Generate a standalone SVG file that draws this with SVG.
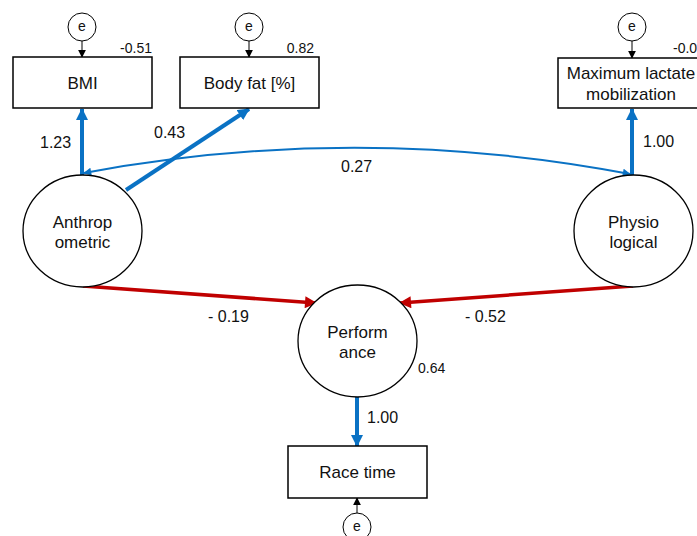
<svg xmlns="http://www.w3.org/2000/svg" width="697" height="536" viewBox="0 0 697 536">
  <style>
    .box { fill: #fff; stroke: #000; stroke-width: 1.5; }
    .lat { fill: #fff; stroke: #000; stroke-width: 1.3; }
    .err { fill: #fff; stroke: #000; stroke-width: 1; }
    .lbl { font-family: "Liberation Sans", Arial, sans-serif; font-size: 17px; fill: #111; text-anchor: middle; }
    .coef { font-family: "Liberation Sans", Arial, sans-serif; font-size: 16px; fill: #111; }
    .small { font-family: "Liberation Sans", Arial, sans-serif; font-size: 14px; fill: #111; }
    .etxt { font-family: "Liberation Sans", Arial, sans-serif; font-size: 14px; fill: #111; text-anchor: middle; }
    .blue { stroke: #0a72c4; stroke-width: 4; fill: none; }
    .red { stroke: #c00000; stroke-width: 3.5; fill: none; }
    .cov { stroke: #0a72c4; stroke-width: 2; fill: none; }
    .thin { stroke: #000; stroke-width: 1; fill: none; }
  </style>
  <defs>
    <marker id="ahBlue" viewBox="0 0 12 12" refX="11" refY="6" markerWidth="12" markerHeight="12" markerUnits="userSpaceOnUse" orient="auto">
      <path d="M0,0 L12,6 L0,12 Z" fill="#0a72c4"/>
    </marker>
    <marker id="ahRed" viewBox="0 0 12 12" refX="11" refY="6" markerWidth="13" markerHeight="12" markerUnits="userSpaceOnUse" orient="auto">
      <path d="M0,0 L12,6 L0,12 Z" fill="#c00000"/>
    </marker>
    <marker id="ahCov" viewBox="0 0 10 10" refX="9" refY="5" markerWidth="9" markerHeight="8" markerUnits="userSpaceOnUse" orient="auto-start-reverse">
      <path d="M0,0 L10,5 L0,10 Z" fill="#0a72c4"/>
    </marker>
    <marker id="ahBlack" viewBox="0 0 10 10" refX="9" refY="5" markerWidth="8" markerHeight="8" markerUnits="userSpaceOnUse" orient="auto">
      <path d="M0,0 L10,5 L0,10 Z" fill="#000"/>
    </marker>
  </defs>

  <!-- connectors -->
  <g id="connectors">
    <line class="thin" x1="82" y1="41" x2="82" y2="57" marker-end="url(#ahBlack)"/>
    <line class="thin" x1="249" y1="41" x2="249" y2="57" marker-end="url(#ahBlack)"/>
    <line class="thin" x1="632" y1="41" x2="632" y2="58" marker-end="url(#ahBlack)"/>
    <line class="thin" x1="357" y1="513" x2="357" y2="498" marker-end="url(#ahBlack)"/>

    <line class="blue" x1="82" y1="175" x2="82" y2="109" marker-end="url(#ahBlue)"/>
    <line class="blue" x1="126" y1="190" x2="249" y2="109" marker-end="url(#ahBlue)"/>
    <line class="blue" x1="632" y1="175" x2="632" y2="109" marker-end="url(#ahBlue)"/>
    <line class="blue" x1="357" y1="397" x2="357" y2="446" marker-end="url(#ahBlue)"/>

    <path class="cov" d="M84,173 Q357,122 630,174" marker-start="url(#ahCov)" marker-end="url(#ahCov)"/>

    <line class="red" x1="83" y1="286" x2="316" y2="303" marker-end="url(#ahRed)"/>
    <line class="red" x1="633" y1="286" x2="400" y2="303" marker-end="url(#ahRed)"/>

    <text class="coef" x="40" y="148">1.23</text>
    <text class="coef" x="154" y="138">0.43</text>
    <text class="coef" x="341" y="172">0.27</text>
    <text class="coef" x="643" y="147">1.00</text>
    <text class="coef" x="208" y="322">- 0.19</text>
    <text class="coef" x="465" y="322">- 0.52</text>
    <text class="coef" x="367" y="423">1.00</text>
  </g>

  <!-- error terms -->
  <g id="e-bmi"><circle class="err" cx="82" cy="27" r="14"/><text class="etxt" x="82" y="31">e</text></g>
  <g id="e-bodyfat"><circle class="err" cx="249" cy="27" r="14"/><text class="etxt" x="249" y="31">e</text></g>
  <g id="e-lactate"><circle class="err" cx="632" cy="27" r="14"/><text class="etxt" x="632" y="31">e</text></g>
  <g id="e-racetime"><circle class="err" cx="357" cy="527" r="14"/><text class="etxt" x="357" y="531">e</text></g>

  <!-- observed variables -->
  <g id="bmi">
    <rect class="box" x="13" y="57" width="139" height="51"/>
    <text class="lbl" x="82.5" y="89">BMI</text>
    <text class="small" x="152" y="53" text-anchor="end">-0.51</text>
  </g>
  <g id="bodyfat">
    <rect class="box" x="180" y="57" width="139" height="51"/>
    <text class="lbl" x="249.5" y="89">Body fat [%]</text>
    <text class="small" x="314" y="53" text-anchor="end">0.82</text>
  </g>
  <g id="lactate">
    <rect class="box" x="558" y="58" width="145" height="50"/>
    <text class="lbl" x="631" y="79">Maximum lactate</text>
    <text class="lbl" x="631" y="100">mobilization</text>
    <text class="small" x="673" y="53">-0.0</text>
  </g>
  <g id="racetime">
    <rect class="box" x="288" y="446" width="139" height="52"/>
    <text class="lbl" x="357.5" y="478">Race time</text>
  </g>

  <!-- latent variables -->
  <g id="anthropometric">
    <ellipse class="lat" cx="82.5" cy="231" rx="59.5" ry="56"/>
    <text class="lbl" x="82.5" y="228">Anthrop</text>
    <text class="lbl" x="82.5" y="248">ometric</text>
  </g>
  <g id="physiological">
    <ellipse class="lat" cx="633.5" cy="231" rx="59.5" ry="56"/>
    <text class="lbl" x="633.5" y="228">Physio</text>
    <text class="lbl" x="633.5" y="248">logical</text>
  </g>
  <g id="performance">
    <ellipse class="lat" cx="357.5" cy="341" rx="59.5" ry="56"/>
    <text class="lbl" x="357.5" y="338">Perform</text>
    <text class="lbl" x="357.5" y="358">ance</text>
    <text class="small" x="418" y="373">0.64</text>
  </g>
</svg>
